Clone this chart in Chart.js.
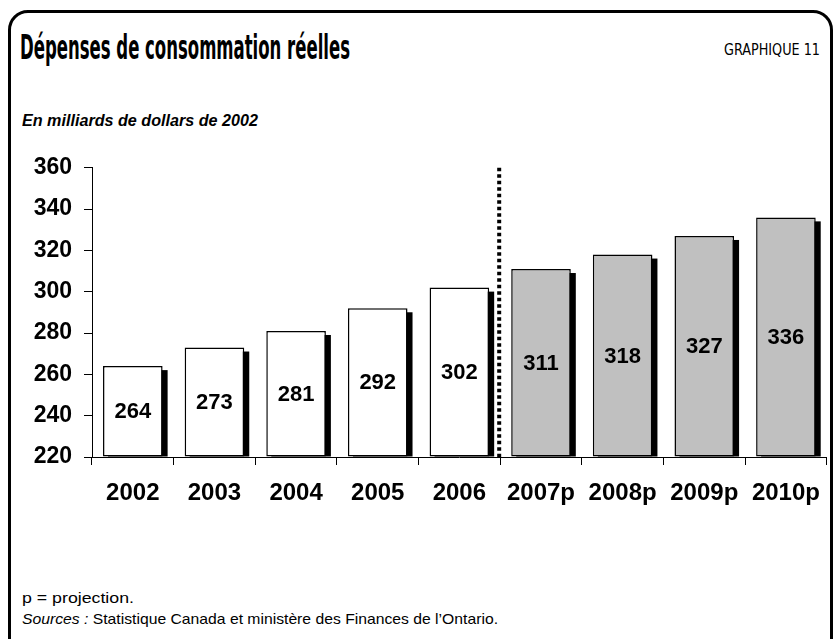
<!DOCTYPE html>
<html>
<head>
<meta charset="utf-8">
<script src="https://cdn.jsdelivr.net/npm/chart.js@4"></script>
<style>
  html, body { margin: 0; padding: 0; background: #fff; }
  body { width: 834px; height: 639px; position: relative; overflow: hidden; }
  #frame { position: absolute; left: 8px; top: 10px; width: 825px; height: 650px;
           border: 3px solid #000; border-radius: 20px; box-sizing: border-box; }
  .t { position: absolute; white-space: nowrap; transform-origin: 0 0; color: #000; line-height: 1; }
  #title { left: 20px; top: 28px; font: bold 33px "DejaVu Sans Condensed", "DejaVu Sans", sans-serif; }
  #graph { left: 724px; top: 40px; font: 16px "DejaVu Sans Condensed", "DejaVu Sans", sans-serif; }
  #sub { left: 22px; top: 111px; font: italic bold 17px "Liberation Sans", Arial, sans-serif; }
  #note1 { left: 22px; top: 589px; font: 15px "Liberation Sans", Arial, sans-serif; }
  #note2 { left: 22px; top: 610px; font: 15px "Liberation Sans", Arial, sans-serif; }
  #wrap { position: absolute; left: 0; top: 142px; width: 834px; height: 377px; }
</style>
</head>
<body>
<div id="frame"></div>
<div class="t" id="title" data-w="330">Dépenses de consommation réelles</div>
<div class="t" id="graph" data-w="96">GRAPHIQUE 11</div>
<div class="t" id="sub" data-w="236">En milliards de dollars de 2002</div>
<div class="t" id="note1" data-w="112">p = projection.</div>
<div class="t" id="note2" data-w="476"><i>Sources :</i> Statistique Canada et ministère des Finances de l’Ontario.</div>
<div id="wrap"><canvas id="c"></canvas></div>
<script>
const categories = ["2002", "2003", "2004", "2005", "2006", "2007p", "2008p", "2009p", "2010p"];
const values = [264, 273, 281, 292, 302, 311, 318, 327, 336];
const isProjection = [false, false, false, false, false, true, true, true, true];
const yTicks = [220, 240, 260, 280, 300, 320, 340, 360];
const dividerAfterIndex = 4;

document.querySelectorAll('.t').forEach(el => {
  const w = el.getBoundingClientRect().width;
  const target = parseFloat(el.dataset.w);
  el.style.transform = 'scaleX(' + (target / w) + ')';
});

const shadowPlugin = {
  id: 'shadow',
  beforeDatasetsDraw(chart) {
    const ctx = chart.ctx;
    const meta = chart.getDatasetMeta(0);
    const bottom = chart.chartArea.bottom;
    ctx.save();
    ctx.fillStyle = '#000';
    meta.data.forEach(bar => {
      const p = bar.getProps(['x', 'y', 'base', 'width'], true);
      const b = Math.min(p.base, bottom);
      ctx.fillRect(p.x - p.width / 2 + 5, p.y + 4, p.width, b - p.y - 4);
    });
    ctx.restore();
  },
  afterDatasetsDraw(chart) {
    const ctx = chart.ctx;
    const meta = chart.getDatasetMeta(0);
    const ds = chart.data.datasets[0];
    const bottom = chart.chartArea.bottom;
    ctx.save();
    ctx.fillStyle = '#000';
    ctx.font = 'bold 22px "Liberation Sans", Arial, sans-serif';
    ctx.textAlign = 'center';
    ctx.textBaseline = 'middle';
    meta.data.forEach((bar, i) => {
      const p = bar.getProps(['x', 'y', 'base'], true);
      const b = Math.min(p.base, bottom);
      ctx.fillText(String(ds.data[i]), p.x, (p.y + b) / 2 + 1);
    });
    const xs = chart.scales.x, ys = chart.scales.y;
    const x = (xs.getPixelForValue(dividerAfterIndex) + xs.getPixelForValue(dividerAfterIndex + 1)) / 2 - 1;
    ctx.strokeStyle = '#000';
    ctx.lineWidth = 4;
    ctx.setLineDash([3.5, 3]);
    ctx.beginPath();
    ctx.moveTo(x, ys.getPixelForValue(yTicks[yTicks.length - 1]));
    ctx.lineTo(x, ys.getPixelForValue(yTicks[0]));
    ctx.stroke();
    ctx.restore();
  }
};

new Chart(document.getElementById('c'), {
  type: 'bar',
  data: {
    labels: categories,
    datasets: [{
      data: values,
      base: yTicks[0],
      backgroundColor: isProjection.map(p => p ? '#c0c0c0' : '#ffffff'),
      borderColor: '#000',
      borderWidth: 1.5,
      borderSkipped: false,
      barPercentage: 0.73,
      categoryPercentage: 1
    }]
  },
  options: {
    responsive: true,
    maintainAspectRatio: false,
    animation: false,
    layout: { padding: { top: 9, right: 1, left: 0, bottom: 0 } },
    plugins: { legend: { display: false }, tooltip: { enabled: false }, title: { display: false } },
    scales: {
      x: {
        grid: { display: true, offset: true, drawOnChartArea: false, drawTicks: true, tickLength: 8, color: '#000', lineWidth: 1 },
        border: { display: true, color: '#000', width: 1 },
        ticks: { color: '#000', font: { family: '"Liberation Sans", Arial, sans-serif', size: 24, weight: 'bold' }, padding: 14, maxRotation: 0, autoSkip: false },
        afterFit(s) { s.height = 62; }
      },
      y: {
        min: yTicks[0], max: yTicks[yTicks.length - 1],
        afterBuildTicks(s) { s.ticks = yTicks.map(v => ({ value: v })); },
        grid: { display: true, drawOnChartArea: false, drawTicks: true, tickLength: 8, color: '#000', lineWidth: 1 },
        border: { display: true, color: '#000', width: 1 },
        ticks: { color: '#000', font: { family: '"Liberation Sans", Arial, sans-serif', size: 23, weight: 'bold' }, padding: 12 },
        afterFit(s) { s.width = 92; }
      }
    }
  },
  plugins: [shadowPlugin]
});
</script>
</body>
</html>
